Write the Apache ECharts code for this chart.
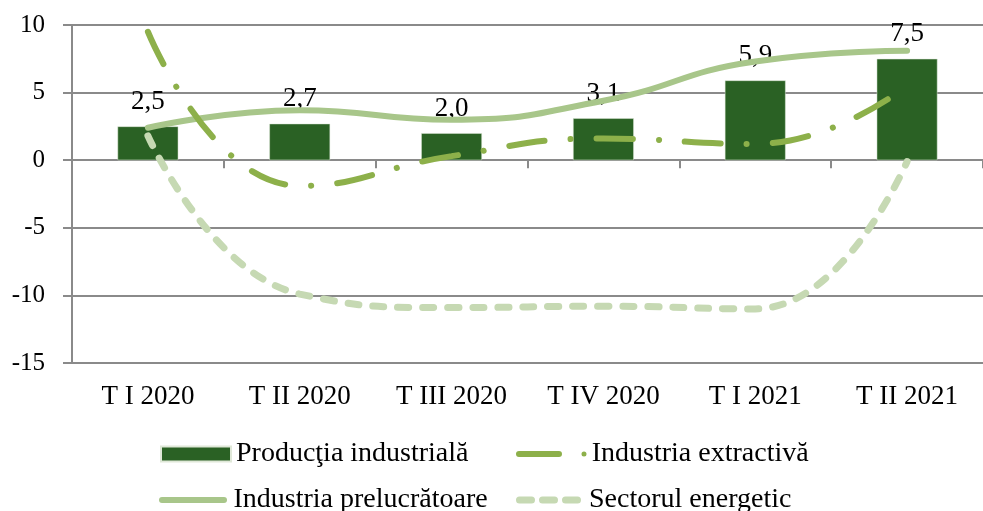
<!DOCTYPE html>
<html>
<head>
<meta charset="utf-8">
<script src="https://cdn.jsdelivr.net/npm/echarts@6/dist/echarts.min.js"></script>
<style>
html,body{margin:0;padding:0;background:#fff;}
#chart{width:983px;height:511px;}
</style>
</head>
<body>
<div id="chart"></div>
<script>
var categories = ['T I 2020', 'T II 2020', 'T III 2020', 'T IV 2020', 'T I 2021', 'T II 2021'];
var productiaIndustriala = [2.5, 2.7, 2.0, 3.1, 5.9, 7.5];
var industriaExtractiva = [9.5, -1.9, 0.3, 1.6, 1.2, 5.5];
var industriaPrelucratoare = [2.4, 3.7, 3.0, 4.4, 7.3, 8.1];
var sectorulEnergetic = [1.8, -9.9, -10.9, -10.8, -11.0, -0.1];
var yTicks = [-15, -10, -5, 0, 5, 10];

var FONT = '"Liberation Serif", "Times New Roman", serif';
var GRID = '#8a8a8a';
var LEGEND_TEXT = {fontFamily: FONT, fontSize: 28, color: '#000'};

function legendItem(name, left, top, icon, w, h) {
  return {
    left: left, top: top, padding: 0, itemWidth: w, itemHeight: h,
    textStyle: LEGEND_TEXT, selectedMode: false,
    data: [{name: name, icon: icon}]
  };
}

var ICON_SOLID = 'path://M3,0 L65,0 A3,3 0 0 1 65,6 L3,6 A3,3 0 0 1 3,0 Z';
var ICON_DASHDOT = 'path://M3,0 L43,0 A3,3 0 0 1 43,6 L3,6 A3,3 0 0 1 3,0 Z M68,0.5 A2.5,2.5 0 1 1 68,5.5 A2.5,2.5 0 1 1 68,0.5 Z';
var ICON_DASHED = 'path://M3,0 L15,0 A3,3 0 0 1 15,7 L3,7 A3,3 0 0 1 3,0 Z M26,0 L38,0 A3,3 0 0 1 38,7 L26,7 A3,3 0 0 1 26,0 Z M49,0 L61,0 A3,3 0 0 1 61,7 L49,7 A3,3 0 0 1 49,0 Z';

var chart = echarts.init(document.getElementById('chart'), null, {renderer: 'canvas'});
chart.setOption({
  animation: false,
  backgroundColor: '#ffffff',
  grid: {left: 72, top: 25, bottom: 148, right: -11, containLabel: false},
  legend: [
    legendItem('Producţia industrială', 160, 440, 'rect', 70, 15),
    legendItem('Industria extractivă', 516, 440, ICON_DASHDOT, 71, 6),
    legendItem('Industria prelucrătoare', 159, 486, ICON_SOLID, 71, 6),
    legendItem('Sectorul energetic', 516, 486, ICON_DASHED, 71, 7)
  ],
  xAxis: [
    {
      type: 'category', data: categories, boundaryGap: true,
      axisLine: {onZero: true, lineStyle: {color: GRID, width: 2}},
      axisTick: {show: true, length: 8, lineStyle: {color: GRID, width: 2}},
      axisLabel: {show: false},
      splitLine: {show: false}
    },
    {
      type: 'category', data: categories, boundaryGap: true, position: 'bottom',
      axisLine: {show: false, onZero: false},
      axisTick: {show: false},
      axisLabel: {show: true, margin: 20, fontFamily: FONT, fontSize: 27, color: '#000'},
      splitLine: {show: false}
    }
  ],
  yAxis: {
    type: 'value', min: -15, max: 10, interval: 5,
    axisLine: {show: true, lineStyle: {color: GRID, width: 2}},
    axisTick: {show: true, length: 9, lineStyle: {color: GRID, width: 2}},
    axisLabel: {margin: 27, fontFamily: FONT, fontSize: 25, color: '#000',
      formatter: function (v) { return yTicks.indexOf(v) >= 0 ? String(v) : ''; }},
    splitLine: {show: true, lineStyle: {color: GRID, width: 2}}
  },
  series: [
    {
      name: 'Producţia industrială', type: 'bar', xAxisIndex: 0,
      data: productiaIndustriala, barWidth: '40%',
      itemStyle: {color: '#2a6124', borderColor: '#dfe8d8', borderWidth: 0.5},
      label: {show: true, position: 'top', distance: 11, fontFamily: FONT, fontSize: 27, color: '#000',
        formatter: function (p) { return p.value.toFixed(1).replace('.', ','); }},
      z: 1
    },
    {
      name: 'Industria extractivă', type: 'line', xAxisIndex: 0,
      data: industriaExtractiva, smooth: 0.5, symbol: 'none',
      lineStyle: {color: '#8db04a', width: 6, type: [36, 26, 0.1, 26], cap: 'round'},
      itemStyle: {color: '#8db04a'},
      z: 3
    },
    {
      name: 'Industria prelucrătoare', type: 'line', xAxisIndex: 0,
      data: industriaPrelucratoare, smooth: 0.5, symbol: 'none',
      lineStyle: {color: '#a8c68a', width: 6, cap: 'round'},
      itemStyle: {color: '#a8c68a'},
      z: 2
    },
    {
      name: 'Sectorul energetic', type: 'line', xAxisIndex: 0,
      data: sectorulEnergetic, smooth: 0.5, symbol: 'none',
      lineStyle: {color: '#c6d9b3', width: 7, type: [11, 14], cap: 'round'},
      itemStyle: {color: '#c6d9b3'},
      z: 2
    }
  ]
});
</script>
</body>
</html>
